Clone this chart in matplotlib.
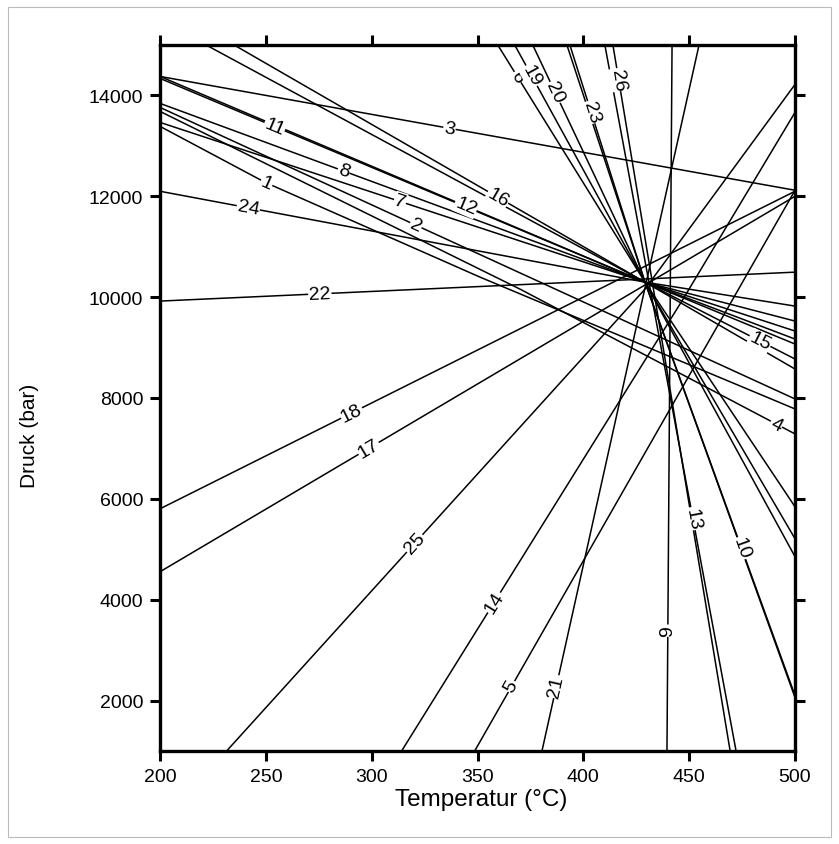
import numpy as np
import matplotlib
matplotlib.use("Agg")
import matplotlib.pyplot as plt
from matplotlib.patches import Rectangle

plt.rcParams['font.family'] = ['Liberation Sans', 'DejaVu Sans']

# reaction curves, numbered; nodes in temperature (°C) and pressure (bar)
reactions = list(range(1, 27))
curve_T = [
    [200, 249.6, 351.2, 500],   # 1
    [200, 320.9, 500],          # 2
    [200, 500],                 # 3
    [200, 370.1, 500],          # 4
    [348.8, 500],               # 5
    [359.7, 429.1, 500],        # 6
    [200, 429.1, 500],          # 7
    [200, 429.1, 500],          # 8
    [439.5, 441.9],             # 9
    [392.3, 429.1, 500],        # 10
    [200, 429.1, 500],          # 11
    [200, 429.1, 500],          # 12
    [410.2, 472.1],             # 13
    [314.3, 447.1, 500],        # 14
    [222.2, 429.1, 500],        # 15
    [235.4, 429.1, 500],        # 16
    [200, 500],                 # 17
    [200, 500],                 # 18
    [367.7, 429.1, 500],        # 19
    [376.2, 429.1, 500],        # 20
    [380.5, 454.6],             # 21
    [200, 500],                 # 22
    [393.7, 429.1, 500],        # 23
    [200, 429.1, 500],          # 24
    [231.7, 429.1, 500],        # 25
    [414.0, 469.3],             # 26
]
curve_P = [
    [13386, 12277, 10396, 7782],
    [13762, 11426, 7980],
    [14376, 12119],
    [13683, 10158, 7287],
    [1010, 12119],
    [14990, 10297, 5842],
    [13465, 10297, 9327],
    [13842, 10297, 9168],
    [1010, 14990],
    [14990, 10297, 2099],
    [14337, 10297, 9822],
    [14376, 10297, 9069],
    [14990, 1010],
    [1010, 9960, 13663],
    [14990, 10297, 8772],
    [14990, 10297, 8574],
    [4554, 12000],
    [5802, 12099],
    [14990, 10297, 5208],
    [14990, 10297, 4852],
    [1010, 14990],
    [9921, 10495],
    [14990, 10297, 2059],
    [12099, 10297, 9525],
    [1010, 10158, 14218],
    [14990, 1010],
]
# where each curve number sits
label_T = [250.5, 320.9, 337.0, 491.0, 367.7, 368.7, 313.4, 286.9, 439.5, 472.6,
           252.0, 345.5, 451.3, 360.2, 482.5, 359.7, 298.7, 291.2, 375.7, 386.6,
           387.1, 275.6, 407.9, 241.6, 320.5, 417.3]
label_P = [12277, 11426, 13406, 7466, 2238, 14356, 11901, 12515, 3386, 4990,
           13168, 11901, 5604, 3881, 9050, 11980, 6990, 7644, 14396, 14059,
           2277, 9980, 13723, 11743, 5109, 14317]

fig = plt.figure(figsize=(8.39, 8.45), dpi=100)
ax = fig.add_axes([0.1907, 0.1101, 0.7569, 0.8355])
ax.set_xlim(200, 500)
ax.set_ylim(1000, 15000)

for T, P in zip(curve_T, curve_P):
    ax.plot(T, P, color='black', lw=1.1, solid_capstyle='butt')

fig.canvas.draw()
to_disp = ax.transData.transform
for num, T, P, lt, lp in zip(reactions, curve_T, curve_P, label_T, label_P):
    pts = to_disp(np.column_stack([T, P]))
    anchor = to_disp((lt, lp))
    # nearest point on the polyline to the anchor, in screen space
    best = None
    for a, b in zip(pts[:-1], pts[1:]):
        d = b - a
        s = np.clip(np.dot(anchor - a, d) / np.dot(d, d), 0, 1)
        q = a + s * d
        dist = np.hypot(*(anchor - q))
        if best is None or dist < best[0]:
            best = (dist, q, d)
    _, q, d = best
    ang = np.degrees(np.arctan2(d[1], d[0]))
    if ang > 90:
        ang -= 180
    elif ang <= -90:
        ang += 180
    x, y = ax.transData.inverted().transform(q)
    ax.text(x, y, str(num), fontsize=14, rotation=ang, rotation_mode='anchor',
            ha='center', va='center',
            bbox=dict(facecolor='white', edgecolor='none', pad=0.5))

ax.set_xticks(np.arange(200, 501, 50))
ax.set_yticks(np.arange(2000, 14001, 2000))
ax.tick_params(direction='out', length=7, width=2.2, labelsize=14, pad=5,
               top=True, right=True, labeltop=False, labelright=False)
for s in ax.spines.values():
    s.set_linewidth(2.4)
ax.set_xlabel('Temperatur (°C)', fontsize=17.5)
ax.set_ylabel('Druck (bar)', fontsize=15)
ax.xaxis.set_label_coords(0.505, -0.052)
ax.yaxis.set_label_coords(-0.19, 0.448)

fig.patches.append(Rectangle((0.01, 0.008), 0.98, 0.982, transform=fig.transFigure,
                             fill=False, edgecolor='#bbbbbb', lw=0.8))

fig.savefig('out.png', dpi=100)
